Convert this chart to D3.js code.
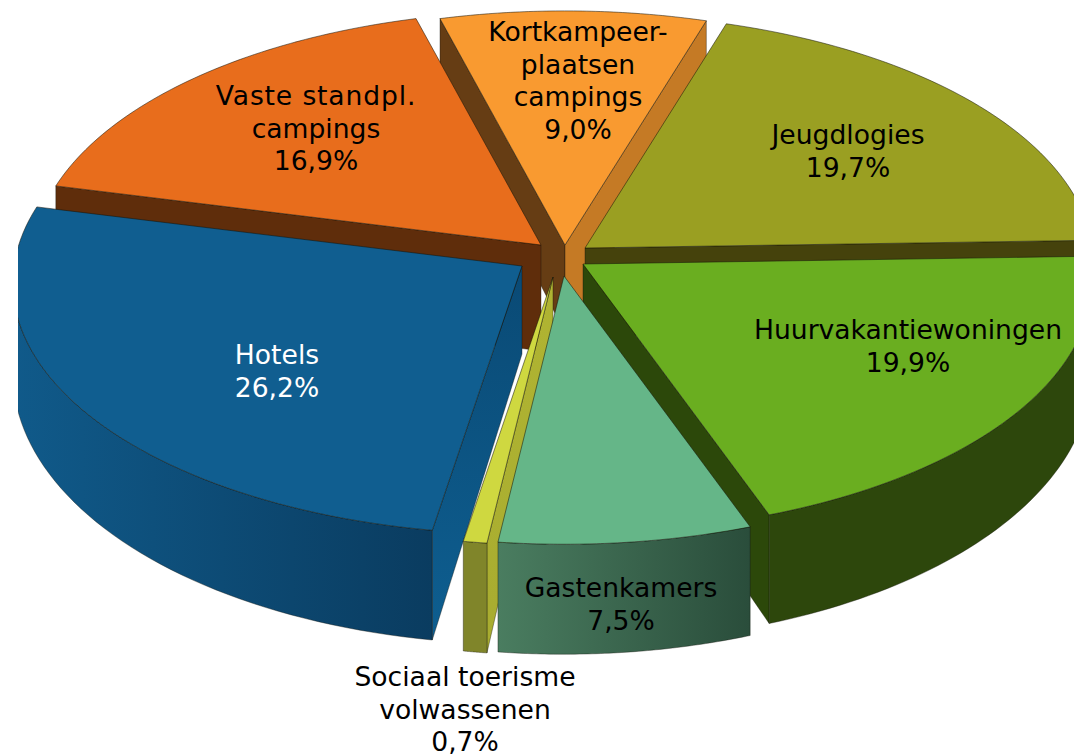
<!DOCTYPE html>
<html><head><meta charset="utf-8">
<script src="https://cdn.jsdelivr.net/npm/d3@7"></script>
<style>html,body{margin:0;padding:0;background:#fff;overflow:hidden}svg{display:block}
text{font-family:"DejaVu Sans",Verdana,sans-serif;font-size:26.6px;text-anchor:middle}</style>
</head><body><svg id="c" width="1074" height="756"></svg>
<script>
// data, clockwise from the far side
const categories = ["Kortkampeerplaatsen campings","Jeugdlogies","Huurvakantiewoningen","Gastenkamers","Sociaal toerisme volwassenen","Hotels","Vaste standpl. campings"];
const values = [9.0,19.7,19.9,7.5,0.7,26.2,16.9];
const valueLabels = ["9,0%","19,7%","19,9%","7,5%","0,7%","26,2%","16,9%"];
const nameLines = [["Kortkampeer-","plaatsen","campings"],["Jeugdlogies"],["Huurvakantiewoningen"],["Gastenkamers"],["Sociaal toerisme","volwassenen"],["Hotels"],["Vaste standpl.","campings"]];

// layout and style
const apexX = [565,585,583,564,553,522,541];
const apexY = [245,248,264,276,277,266,245];
const baseDepth = [88,88,88,88,88,88,106];
const labelX = [578,848,908,621,465,277,316];
const labelY = [41,144,339,597,686,364,105];
const labelLetterSpacing = [0,0,0,0,0,0,0.85];
const labelFill = ["#000","#000","#000","#000","#000","#fff","#000"];
const topFill = ["#f99a30","#9a9f22","#6aae20","#65b688","#cfd840","#105e90","#e86d1c"];
const startWallFar = ["#663d14","#45420c","#2c480a","#47795c","#b0b432","#0a4a75","#5f2d0b"];
const startWallNear = ["#663d14","#45420c","#2c480a","#47795c","#a8ac30","#0e5e90","#5f2d0b"];
const endWall = ["#c57a25","#45420c","#2c480a","#2b4f3c","#b0b432","#0b4c78","#5f2d0b"];
const arcLeft = ["#663d14","#45420c","#2d470c","#4a7d60","#80852a","#105a8a","#5f2d0b"];
const arcRight = ["#c57a25","#45420c","#2d470c","#2a4d3b","#80852a","#0a3c60","#5f2d0b"];
const paintOrder = [0,6,1,2,5,4,3];
const leftCrop = 18;

const RX = 508, RY = 250, K = 0.068, DEPTH_SLOPE = 22;
const START = -15.2 * Math.PI / 180;

const pie = d3.pie().sort(null).startAngle(START).endAngle(START + 2*Math.PI);
const arcs = pie(values);
const svg = d3.select("#c");
const defs = svg.append("defs");
defs.append("clipPath").attr("id","crop").append("rect")
  .attr("x",leftCrop).attr("y",0).attr("width",1074-leftCrop).attr("height",756);
const line = d3.line().x(d=>d[0]).y(d=>d[1]);
const edge = "rgba(20,20,10,.75)";

function pt(i, a, r){
  const u = Math.sin(a)*r, v = Math.cos(a)*r, s = 1/(1+K*v);
  return {x: apexX[i]+RX*u*s, y: apexY[i]-RY*v*s, d: baseDepth[i]-DEPTH_SLOPE*v};
}
const upper = p => [p.x,p.y];
const lower = p => [p.x,p.y+p.d];
// a radial wall shows only when the top face lies above its edge
function wallFaces(c,p,m){
  const side = (p.x-c.x)*(m.y-c.y)-(p.y-c.y)*(m.x-c.x);
  return side*Math.sign(p.x-c.x) < 0;
}
function gradient(id,from,to,vertical){
  const lg = defs.append("linearGradient").attr("id",id);
  if(vertical) lg.attr("x1",0).attr("y1",0).attr("x2",0).attr("y2",1);
  lg.append("stop").attr("offset",0).attr("stop-color",from);
  lg.append("stop").attr("offset",1).attr("stop-color",to);
  return `url(#${id})`;
}

const root = svg.append("g").attr("clip-path","url(#crop)");
paintOrder.forEach(i=>{
  const a0 = arcs[i].startAngle, a1 = arcs[i].endAngle;
  const g = root.append("g").attr("data-name",categories[i]);
  const c = pt(i,0,0), p0 = pt(i,a0,1), p1 = pt(i,a1,1), mid = pt(i,(a0+a1)/2,1);
  const angles = d3.range(0,61).map(t=>a0+(a1-a0)*t/60);
  const rim = angles.map(a=>pt(i,a,1));
  const front = angles.filter(a=>Math.cos(a)<=0).map(a=>pt(i,a,1));
  // radial walls
  if(wallFaces(c,p0,mid)) g.append("path").attr("d",line([upper(c),upper(p0),lower(p0),lower(c)])+"Z")
    .attr("fill",gradient("s"+i,startWallFar[i],startWallNear[i],true)).attr("stroke",edge).attr("stroke-width",.5);
  if(wallFaces(c,p1,mid)) g.append("path").attr("d",line([upper(c),upper(p1),lower(p1),lower(c)])+"Z")
    .attr("fill",endWall[i]).attr("stroke",edge).attr("stroke-width",.5);
  // outer wall
  if(front.length>1){
    g.append("path").attr("d",line(front.map(upper).concat(front.slice().reverse().map(lower)))+"Z")
      .attr("fill",gradient("w"+i,arcLeft[i],arcRight[i],false)).attr("stroke",edge).attr("stroke-width",.5);
  }
  // top face
  g.append("path").attr("d",line([upper(c)].concat(rim.map(upper)))+"Z")
    .attr("fill",topFill[i]).attr("stroke",edge).attr("stroke-width",.7).attr("stroke-linejoin","round");
});

// labels
categories.forEach((n,i)=>{
  const lines = nameLines[i].concat([valueLabels[i]]);
  const t = svg.append("text").attr("fill",labelFill[i]);
  lines.forEach((l,j)=>t.append("tspan").attr("x",labelX[i]).attr("y",labelY[i]+j*32.6)
    .attr("letter-spacing",j===0?labelLetterSpacing[i]:0).text(l));
});
</script></body></html>
